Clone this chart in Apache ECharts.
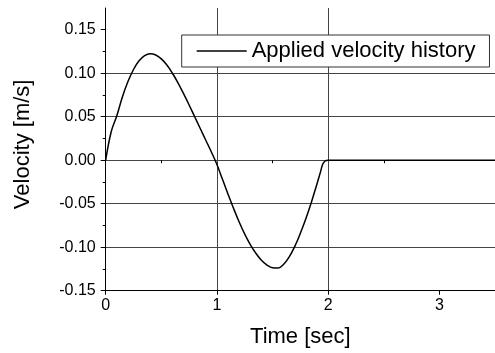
<!DOCTYPE html>
<html>
<head>
<meta charset="utf-8">
<script src="https://cdn.jsdelivr.net/npm/echarts@6/dist/echarts.min.js"></script>
<style>
  html, body { margin: 0; padding: 0; background: #fff; }
  #chart { width: 495px; height: 353px; }
</style>
</head>
<body>
<div id="chart"></div>
<script>
// Applied velocity history: time [sec] vs velocity [m/s]
const timeSec = [0, 0.05, 0.1, 0.15, 0.2, 0.25, 0.3, 0.35, 0.4, 0.45, 0.5, 0.55, 0.6, 0.65, 0.7, 0.75, 0.8, 0.85, 0.9, 0.95, 1.0, 1.05, 1.1, 1.15, 1.2, 1.25, 1.3, 1.35, 1.4, 1.45, 1.5, 1.55, 1.6, 1.65, 1.7, 1.75, 1.8, 1.85, 1.9, 1.93, 1.95, 1.97, 2.0, 2.5, 3.0, 3.5];
const velocity = [0, 0.033, 0.0511, 0.0727, 0.0904, 0.1043, 0.1143, 0.1203, 0.1225, 0.121, 0.1165, 0.1095, 0.100, 0.089, 0.0765, 0.0635, 0.050, 0.0365, 0.023, 0.0095, -0.005, -0.022, -0.039, -0.0555, -0.071, -0.085, -0.097, -0.107, -0.115, -0.1205, -0.1237, -0.124, -0.1195, -0.111, -0.099, -0.084, -0.067, -0.048, -0.027, -0.014, -0.005, -0.0012, 0, 0, 0, 0];

const xMajorTicks = [0, 1, 2, 3];
const xMinorTicks = [0.5, 1.5, 2.5];
const yMajorTicks = [-0.15, -0.10, -0.05, 0.00, 0.05, 0.10, 0.15];
const yMinorTicks = [-0.125, -0.075, -0.025, 0.025, 0.075, 0.125];

const seriesName = 'Applied velocity history';
const FONT = '"Liberation Sans", Arial, sans-serif';

const chart = echarts.init(document.getElementById('chart'), null, { renderer: 'canvas' });

const X_MIN = 0, X_MAX = 3.5, Y_MIN = -0.15, Y_MAX = 0.175;

chart.setOption({
  animation: false,
  backgroundColor: '#fff',
  grid: { left: 105.7, top: 8, width: 391, height: 282.7, containLabel: false },
  legend: {
    left: 181.7, top: 35,
    padding: [5, 14, 5, 15],
    itemWidth: 50, itemHeight: 1.5,
    icon: 'rect',
    backgroundColor: '#fff',
    borderColor: '#333', borderWidth: 1,
    textStyle: { fontFamily: FONT, fontSize: 22, color: '#000' },
    data: [{ name: seriesName, icon: 'rect', itemStyle: { color: '#000' } }]
  },
  xAxis: [{
    type: 'value', min: X_MIN, max: X_MAX, interval: 1,
    name: 'Time [sec]', nameLocation: 'middle', nameGap: 35,
    nameTextStyle: { fontFamily: FONT, fontSize: 22, color: '#000' },
    axisLine: { show: true, onZero: false, lineStyle: { color: '#000', width: 1 } },
    axisTick: { show: true, customValues: xMajorTicks, length: 4, lineStyle: { color: '#000' } },
    axisLabel: { customValues: xMajorTicks, margin: 7, fontFamily: FONT, fontSize: 16, color: '#000', formatter: v => String(v) },
    splitLine: { show: true, showMinLine: false, showMaxLine: false, lineStyle: { color: '#444', width: 1 } }
  }, {
    type: 'value', min: X_MIN, max: X_MAX, position: 'bottom', gridIndex: 0,
    axisLine: { show: false },
    axisTick: { show: true, customValues: xMinorTicks, length: 3, lineStyle: { color: '#000' } },
    axisLabel: { show: false },
    splitLine: { show: false }
  }],
  yAxis: [{
    type: 'value', min: Y_MIN, max: Y_MAX, interval: 0.05,
    name: 'Velocity [m/s]', nameLocation: 'middle', nameGap: 72,
    nameTextStyle: { fontFamily: FONT, fontSize: 22, color: '#000', padding: [0, 0, 0, 10] },
    axisLine: { show: true, onZero: false, lineStyle: { color: '#000', width: 1 } },
    axisTick: { show: true, customValues: yMajorTicks, length: 5, lineStyle: { color: '#000' } },
    axisLabel: { customValues: yMajorTicks, margin: 10, fontFamily: FONT, fontSize: 16, color: '#000', formatter: v => v.toFixed(2) },
    splitLine: { show: true, showMinLine: false, showMaxLine: false, lineStyle: { color: '#444', width: 1 } }
  }, {
    type: 'value', min: Y_MIN, max: Y_MAX, position: 'left', gridIndex: 0,
    axisLine: { show: false },
    axisTick: { show: true, customValues: yMinorTicks, length: 3, lineStyle: { color: '#000' } },
    axisLabel: { show: false },
    splitLine: { show: false }
  }],
  series: [{
    name: seriesName,
    type: 'line',
    xAxisIndex: 0, yAxisIndex: 0,
    data: timeSec.map((t, i) => [t, velocity[i]]),
    symbol: 'none', showSymbol: false,
    smooth: 0.4,
    lineStyle: { color: '#000', width: 1.5 },
    itemStyle: { color: '#000' },
    z: 3
  }]
});
</script>
</body>
</html>
